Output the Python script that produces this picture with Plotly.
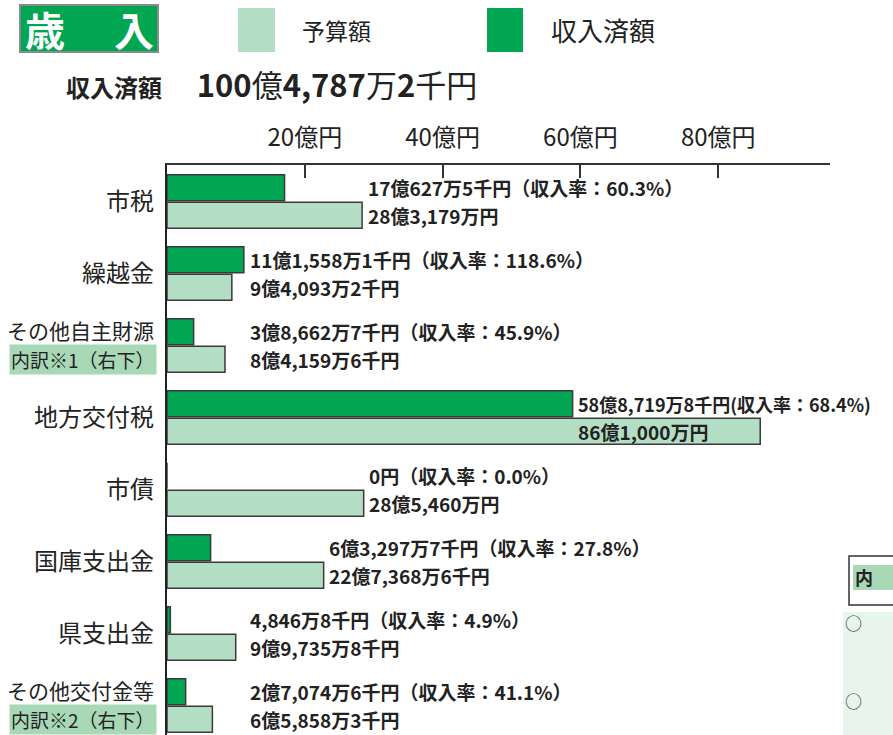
import plotly.graph_objects as go

# ---------------- data ----------------
categories = ["市税", "繰越金", "その他自主財源", "地方交付税", "市債", "国庫支出金", "県支出金", "その他交付金等"]
category_notes = ["", "", "内訳※1（右下）", "", "", "", "", "内訳※2（右下）"]
budget = [28.3179, 9.40932, 8.41596, 86.1, 28.546, 22.73686, 9.97358, 6.58583]          # 億円
received = [17.06275, 11.15581, 3.86627, 58.87198, 0.0, 6.32977, 0.48468, 2.70746]     # 億円
budget_text = ["28億3,179万円", "9億4,093万2千円", "8億4,159万6千円", "86億1,000万円",
               "28億5,460万円", "22億7,368万6千円", "9億9,735万8千円", "6億5,858万3千円"]
received_text = ["17億627万5千円", "11億1,558万1千円", "3億8,662万7千円", "58億8,719万8千円",
                 "0円", "6億3,297万7千円", "4,846万8千円", "2億7,074万6千円"]
rates = ["60.3", "118.6", "45.9", "68.4", "0.0", "27.8", "4.9", "41.1"]
tick_vals = [20, 40, 60, 80]
tick_text = ["20億円", "40億円", "60億円", "80億円"]
total_text = "<b>100</b>億<b>4,787</b>万<b>2</b>千円"

# ---------------- style ----------------
W, H = 893, 735
L, R, T, B = 167, 63, 165, 0
PW, PH = W - L - R, H - T - B
DARK = "#00A651"
LIGHT = "#B3DEC3"
EDGE = "#3a3a3a"
FONT = "Noto Sans CJK JP"
BARGAP = 0.235

def px(x):
    return (x - L) / PW

def py(y):
    return (H - B - y) / PH

fig = go.Figure()
fig.add_trace(go.Bar(
    y=categories, x=received, orientation="h", name="収入済額",
    marker=dict(color=DARK, line=dict(color=EDGE, width=1.5)), hoverinfo="skip"))
fig.add_trace(go.Bar(
    y=categories, x=budget, orientation="h", name="予算額",
    marker=dict(color=LIGHT, line=dict(color=EDGE, width=1.5)), hoverinfo="skip"))

ann = []
half = (1 - BARGAP) / 4
for i, cat in enumerate(categories):
    # category labels
    if category_notes[i]:
        ann.append(dict(x=px(156), xref="paper", y=i - 0.21, yref="y", text=cat,
                        xanchor="right", yanchor="middle", showarrow=False,
                        font=dict(family=FONT, size=21, color="#222")))
        ann.append(dict(x=px(157), xref="paper", y=i + 0.2, yref="y", text=category_notes[i],
                        xanchor="right", yanchor="middle", showarrow=False,
                        bgcolor="#A8D8B6", borderpad=1,
                        font=dict(family=FONT, size=19, color="#222")))
    else:
        ann.append(dict(x=px(156), xref="paper", y=i, yref="y", yshift=2, text=cat,
                        xanchor="right", yanchor="middle", showarrow=False,
                        font=dict(family=FONT, size=24, color="#222")))
    # value labels
    m = max(budget[i], received[i])
    wide = m > 70
    lx = (received[i] if wide else max(m, 11.2)) + 0.5
    fmt = "<b>%s(収入率：%s%%)</b>" if wide else "<b>%s（収入率：%s%%）</b>"
    ann.append(dict(x=lx, y=i - half, xref="x", yref="y", yshift=0,
                    text=fmt % (received_text[i], rates[i]),
                    xanchor="left", yanchor="middle", showarrow=False,
                    font=dict(family=FONT, size=18 if wide else 19, color="#222")))
    ann.append(dict(x=lx, y=i + half, xref="x", yref="y", yshift=0,
                    text="<b>%s</b>" % budget_text[i],
                    xanchor="left", yanchor="middle", showarrow=False,
                    font=dict(family=FONT, size=19, color="#222")))

shapes = []
# title box
shapes.append(dict(type="rect", xref="paper", yref="paper", x0=px(20), x1=px(158), y0=py(52), y1=py(5),
                   fillcolor=DARK, line=dict(color="#8a8a8a", width=2), layer="above"))
ann.append(dict(x=px(89), y=py(29), xref="paper", yref="paper", text="<b>歳　 入</b>",
                showarrow=False, xanchor="center", yanchor="middle",
                font=dict(family=FONT, size=40, color="white")))
# legend squares
shapes.append(dict(type="rect", xref="paper", yref="paper", x0=px(238), x1=px(275), y0=py(52), y1=py(8),
                   fillcolor=LIGHT, line=dict(width=0)))
ann.append(dict(x=px(300), y=py(30), xref="paper", yref="paper", text="予算額",
                showarrow=False, xanchor="left", yanchor="middle",
                font=dict(family=FONT, size=23, color="#222")))
shapes.append(dict(type="rect", xref="paper", yref="paper", x0=px(487), x1=px(523), y0=py(52), y1=py(8),
                   fillcolor=DARK, line=dict(width=0)))
ann.append(dict(x=px(549), y=py(30), xref="paper", yref="paper", text="収入済額",
                showarrow=False, xanchor="left", yanchor="middle",
                font=dict(family=FONT, size=26, color="#222")))
# total
ann.append(dict(x=px(64), y=py(83), xref="paper", yref="paper",
                text="<b>収入済額</b>　  <span style='font-size:31px'>%s</span>" % total_text,
                showarrow=False, xanchor="left", yanchor="middle",
                font=dict(family=FONT, size=24, color="#222")))
# fragments of neighbouring panel (bottom right)
shapes.append(dict(type="rect", xref="paper", yref="paper", x0=px(849), x1=px(900), y0=py(605), y1=py(556),
                   fillcolor="white", line=dict(color="#333", width=1.5)))
shapes.append(dict(type="rect", xref="paper", yref="paper", x0=px(853), x1=px(893), y0=py(590), y1=py(565),
                   fillcolor="#A8D8B6", line=dict(width=0)))
ann.append(dict(x=px(853), y=py(577), xref="paper", yref="paper", text="<b>内</b>",
                showarrow=False, xanchor="left", yanchor="middle",
                font=dict(family=FONT, size=18, color="#222")))
shapes.append(dict(type="rect", xref="paper", yref="paper", x0=px(843), x1=px(900), y0=py(740), y1=py(612),
                   fillcolor="#E8F5EC", line=dict(width=0)))
for yy in (622, 700):
    ann.append(dict(x=px(843), y=py(yy), xref="paper", yref="paper", text="○",
                    showarrow=False, xanchor="left", yanchor="middle",
                    font=dict(family=FONT, size=17, color="#333")))

fig.update_layout(
    width=W, height=H, margin=dict(l=L, r=R, t=T, b=B, pad=0),
    paper_bgcolor="white", plot_bgcolor="white",
    barmode="group", bargap=BARGAP, bargroupgap=0.06, showlegend=False,
    xaxis=dict(side="top", range=[0, PW / 6.89], tickvals=tick_vals, ticktext=tick_text,
               ticks="inside", ticklen=13, tickwidth=2, tickcolor="#333",
               showline=True, linecolor="#333", linewidth=2, showgrid=False, zeroline=False,
               ticklabelstandoff=7, tickfont=dict(family=FONT, size=24, color="#222")),
    yaxis=dict(type="category", categoryorder="array", categoryarray=categories,
               range=[7.41, -0.507], showticklabels=False, ticks="",
               showline=True, linecolor="#222", linewidth=2, showgrid=False, zeroline=False),
    annotations=ann, shapes=shapes,
)

fig.write_html("out.html", config={"displayModeBar": False},
               post_script="document.body.style.margin='0';document.body.style.overflow='hidden';")
